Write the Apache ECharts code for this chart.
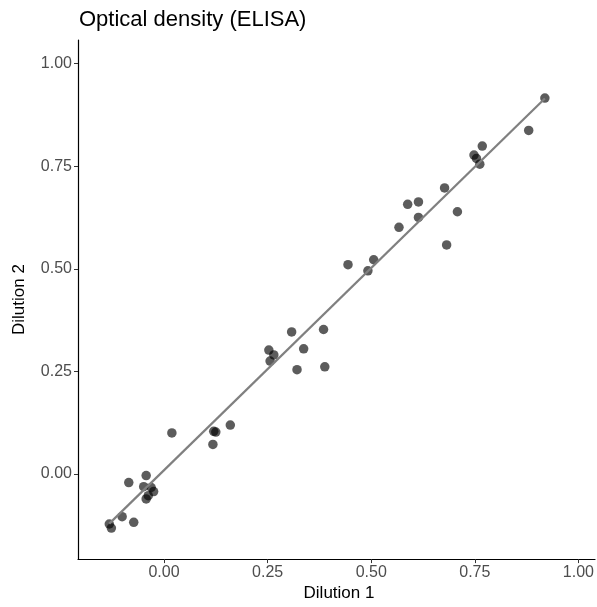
<!DOCTYPE html>
<html>
<head>
<meta charset="utf-8">
<script src="https://cdn.jsdelivr.net/npm/echarts@6/dist/echarts.min.js"></script>
<style>html,body{margin:0;padding:0;background:#fff}#chart{width:597px;height:607px}</style>
</head>
<body>
<div id="chart"></div>
<script>
var dilution1 = [-0.132,-0.127,-0.101,-0.073,-0.085,-0.043,-0.049,-0.031,-0.025,-0.038,-0.043,0.019,0.120,0.125,0.160,0.118,0.253,0.265,0.256,0.308,0.337,0.321,0.385,0.388,0.444,0.506,0.492,0.567,0.588,0.614,0.614,0.677,0.682,0.708,0.748,0.754,0.762,0.768,0.880,0.919];
var dilution2 = [-0.122,-0.132,-0.104,-0.118,-0.021,-0.004,-0.031,-0.033,-0.043,-0.053,-0.061,0.100,0.104,0.102,0.119,0.072,0.302,0.290,0.275,0.346,0.305,0.254,0.352,0.261,0.510,0.522,0.495,0.601,0.657,0.663,0.625,0.697,0.558,0.639,0.777,0.769,0.755,0.799,0.837,0.916];
var fitLineX = [-0.132, 0.919];
var fitLineY = [-0.121, 0.915];
var tickValues = [0, 0.25, 0.5, 0.75, 1.0];

var points = dilution1.map(function(x, i){ return [x, dilution2[i]]; });
var fit = fitLineX.map(function(x, i){ return [x, fitLineY[i]]; });

var chart = echarts.init(document.getElementById('chart'), null, {renderer:'canvas'});
var font = 'Liberation Sans, Arial, Helvetica, sans-serif';
chart.setOption({
  animation:false,
  backgroundColor:'#ffffff',
  title:{text:'Optical density (ELISA)', left:74, top:4, textStyle:{fontFamily:font, fontSize:22, fontWeight:'normal', color:'#000'}},
  grid:{left:78, right:0, top:40, bottom:44, containLabel:false},
  xAxis:{type:'value', min:-0.2075, max:1.040,
    name:'Dilution 1', nameLocation:'middle', nameGap:23,
    nameTextStyle:{fontFamily:font, fontSize:17, color:'#000', padding:[0,0,0,5]},
    axisLine:{onZero:false, lineStyle:{color:'#000', width:1.2}},
    axisTick:{show:true, length:4, lineStyle:{color:'#333'}, customValues:tickValues},
    axisLabel:{fontFamily:font, fontSize:16, color:'#4d4d4d', margin:5, customValues:tickValues, formatter:function(v){return v.toFixed(2);}},
    splitLine:{show:false}},
  yAxis:{type:'value', min:-0.2075, max:1.0575,
    name:'Dilution 2', nameLocation:'middle', nameGap:50, nameRotate:90,
    nameTextStyle:{fontFamily:font, fontSize:17, color:'#000'},
    axisLine:{onZero:false, lineStyle:{color:'#000', width:1.2}},
    axisTick:{show:true, length:4, lineStyle:{color:'#333'}, customValues:tickValues},
    axisLabel:{fontFamily:font, fontSize:16, color:'#4d4d4d', margin:6, customValues:tickValues, formatter:function(v){return v.toFixed(2);}},
    splitLine:{show:false}},
  series:[
    {type:'scatter', data:points, symbolSize:9.5, itemStyle:{color:'rgba(0,0,0,0.8)'}, z:2},
    {type:'line', data:fit, symbol:'none', lineStyle:{color:'#808080', width:2.2}, z:3}
  ]
});
</script>
</body>
</html>
